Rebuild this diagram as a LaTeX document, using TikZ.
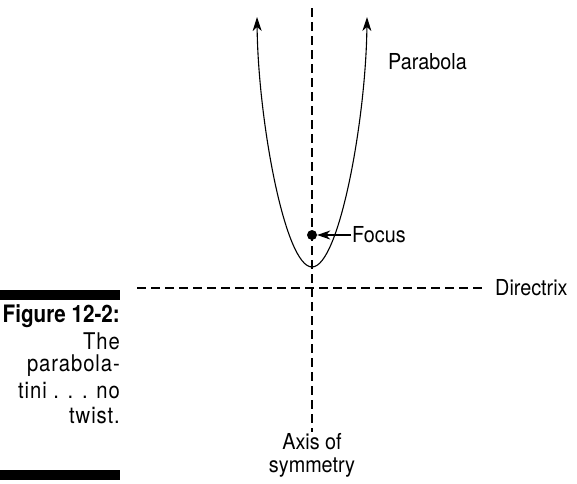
\documentclass[tikz,border=0pt]{standalone}
\usepackage{fontspec}
\setmainfont{TeX Gyre Heros}[FakeStretch=0.9]
\newfontfamily\capfont{TeX Gyre Heros}[FakeStretch=0.88, LetterSpace=4]
\newfontfamily\capbold{TeX Gyre Heros Bold}[FakeStretch=0.86]
\usetikzlibrary{arrows.meta, positioning}

\tikzset{
  lbl/.style={font=\fontsize{22}{25}\selectfont, inner sep=1pt},
  capline/.style={font=\fontsize{23}{26}\selectfont\capfont, anchor=east, inner sep=0pt},
  guide/.style={line width=1.2pt, dash pattern=on 9pt off 5pt},
  tip/.style={-{Stealth[length=13pt, width=9pt, inset=4pt]}}
}

\begin{document}
\begin{tikzpicture}[x=1pt, y=-1pt]
\useasboundingbox (0,0) rectangle (577,483);

% axis of symmetry
\coordinate (axtop) at (312,8);
\node[lbl, align=center, anchor=north] (axis) at (312,432) {Axis of\\[-2pt]symmetry};
\draw[guide] (axtop) -- (axis.north);

% directrix
\coordinate (dirleft) at (137,288);
\node[lbl, anchor=west] (dir) at (494,288) {Directrix};
\draw[guide, shorten >=9pt] (dirleft) -- (dir.west);

% the parabola
\coordinate (lefttop) at (257,17);
\coordinate (vertex) at (312,267);
\coordinate (righttop) at (367,17);
\draw[line width=1.1pt, {Stealth[length=14pt, width=9pt, inset=4pt]}-{Stealth[length=14pt, width=9pt, inset=4pt]}]
  (lefttop) .. controls (258,120) and (285,267) .. (vertex)
  .. controls (339,267) and (366,120) .. (righttop);
\node[lbl, anchor=west] (para) at (387,62) {Parabola};

% focus
\node[circle, fill, inner sep=0pt, minimum size=10pt] (focus) at (312,235) {};
\node[lbl, anchor=west] (flbl) at (351,235) {Focus};
\draw[tip, line width=1.1pt] (flbl.west) -- (focus.east);

% caption
\fill (0,290) rectangle (120,300);
\fill (0,470) rectangle (120,480);
\node[capline, font=\fontsize{24}{26}\selectfont\capbold] (fig) at (120,316) {Figure 12-2:};
\node[capline] (c1) at (120,341) {The};
\node[capline] (c2) at (120,366) {parabola-};
\node[capline] (c3) at (120,391) {tini . . . no};
\node[capline] (c4) at (120,416) {twist.};
\end{tikzpicture}
\end{document}
